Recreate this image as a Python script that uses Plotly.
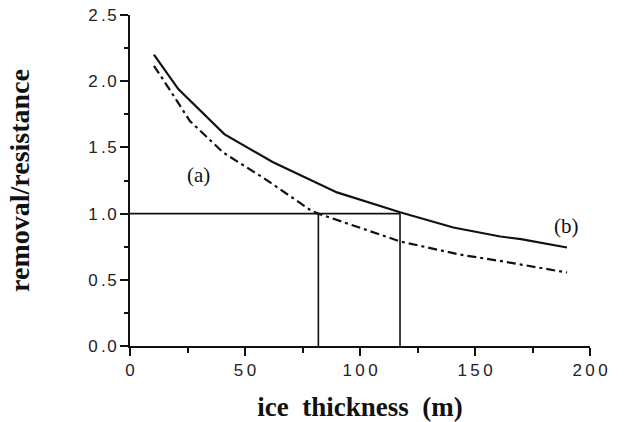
import plotly.graph_objects as go

# ice thickness (m)
thickness_b = [10.4, 21, 41, 62, 90, 110, 117.4, 140.6, 161, 170, 190]
ratio_b = [2.20, 1.94, 1.60, 1.39, 1.16, 1.047, 1.01, 0.895, 0.827, 0.807, 0.744]

thickness_a = [10.4, 14.5, 26, 40.6, 58, 79, 81.9, 117.4, 143.5, 160, 190]
ratio_a = [2.115, 2.01, 1.70, 1.46, 1.27, 1.02, 1.00, 0.79, 0.69, 0.645, 0.555]

threshold = 1.0
cross_a = 81.9
cross_b = 117.4

x_labels = {"50": "5\u20090", "100": "1\u20090\u20090", "150": "1\u20095\u20090", "200": "2\u20090\u20090"}
y_labels = {v: v.replace(".", "\u2009.\u200a") for v in ["0.0", "0.5", "1.0", "1.5", "2.0", "2.5"]}

fig = go.Figure()

ref_line = dict(color="#111", width=1.6)
fig.add_trace(go.Scatter(x=[0, cross_b], y=[threshold, threshold], mode="lines",
                         line=ref_line, hoverinfo="skip"))
fig.add_trace(go.Scatter(x=[cross_a, cross_a], y=[0, threshold], mode="lines",
                         line=ref_line, hoverinfo="skip"))
fig.add_trace(go.Scatter(x=[cross_b, cross_b], y=[0, threshold], mode="lines",
                         line=ref_line, hoverinfo="skip"))

fig.add_trace(go.Scatter(x=thickness_b, y=ratio_b, mode="lines",
                         line=dict(color="#111", width=2.2), name="(b)"))
fig.add_trace(go.Scatter(x=thickness_a, y=ratio_a, mode="lines",
                         line=dict(color="#111", width=2.2, dash="9px,4px,3px,4px"), name="(a)"))

label_font = dict(family="Liberation Serif, Times New Roman, serif", size=21, color="#111")
fig.add_annotation(x=29.7, y=1.29, text="(a)", showarrow=False, font=label_font)
fig.add_annotation(x=189.9, y=0.91, text="(b)", showarrow=False, font=label_font)

tick_font = dict(family="Liberation Sans, Arial, sans-serif", size=17, color="#222")
x_title_font = dict(family="Liberation Serif, Times New Roman, serif", size=27, color="#111", weight="bold")
y_title_font = dict(family="Liberation Serif, Times New Roman, serif", size=28, color="#111", weight="bold")

fig.update_layout(
    width=629, height=422,
    margin=dict(l=130, r=39, t=15, b=76, autoexpand=False),
    paper_bgcolor="white", plot_bgcolor="white",
    showlegend=False,
    xaxis=dict(
        range=[0, 200], tickmode="linear", tick0=0, dtick=50, labelalias=x_labels,
        showgrid=False, zeroline=False, showline=True, linecolor="#111", linewidth=2,
        ticks="outside", ticklen=8, tickwidth=2, tickcolor="#111",
        minor=dict(dtick=25, tick0=0, ticks="outside", ticklen=5, tickwidth=2, tickcolor="#111"),
        tickfont=tick_font, automargin=False,
        title=dict(text="ice  thickness  (m)", font=x_title_font, standoff=19),
    ),
    yaxis=dict(
        range=[0, 2.5], tickmode="linear", tick0=0, dtick=0.5, tickformat=".1f", labelalias=y_labels,
        showgrid=False, zeroline=False, showline=True, linecolor="#111", linewidth=2,
        ticks="outside", ticklen=8, tickwidth=2, tickcolor="#111",
        minor=dict(dtick=0.25, tick0=0, ticks="outside", ticklen=4, tickwidth=2, tickcolor="#111"),
        tickfont=tick_font, automargin=False,
        title=dict(text="removal/resistance", font=y_title_font, standoff=50),
    ),
)

fig.write_html("out.html", config={"displayModeBar": False},
               post_script="document.body.style.margin='0px';")
